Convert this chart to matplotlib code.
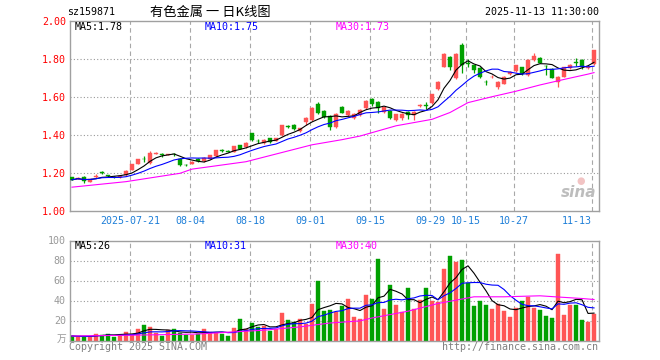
import matplotlib
matplotlib.use('Agg')
import matplotlib.pyplot as plt
import matplotlib.transforms as mtrans
import numpy as np
import pandas as pd

W, H = 660, 360

# ---------------- data ----------------
tick_idx = [10, 20, 30, 40, 50, 60, 66, 74, 87]
tick_labels = ['2025-07-21', '08-04', '08-18', '09-01', '09-15', '09-29', '10-15', '10-27', '11-13']

opens = [1.179, 1.170, 1.182, 1.156, 1.180, 1.205, 1.190, 1.182, 1.178, 1.189,
         1.218, 1.250, 1.277, 1.252, 1.303, 1.301, 1.297, 1.302, 1.276, 1.245,
         1.250, 1.276, 1.264, 1.277, 1.290, 1.323, 1.316, 1.314, 1.347, 1.336,
         1.411, 1.372, 1.360, 1.384, 1.372, 1.402, 1.449, 1.455, 1.422, 1.472,
         1.480, 1.565, 1.528, 1.502, 1.445, 1.550, 1.507, 1.493, 1.507, 1.545,
         1.591, 1.577, 1.521, 1.528, 1.480, 1.489, 1.524, 1.507, 1.554, 1.558,
         1.568, 1.644, 1.761, 1.810, 1.700, 1.875, 1.780, 1.768, 1.756, 1.682,
         1.705, 1.652, 1.672, 1.721, 1.738, 1.758, 1.715, 1.795, 1.806, 1.767,
         1.750, 1.680, 1.709, 1.755, 1.786, 1.796, 1.755, 1.775]
highs = [1.183, 1.180, 1.188, 1.170, 1.198, 1.212, 1.193, 1.185, 1.187, 1.216,
         1.250, 1.277, 1.290, 1.315, 1.310, 1.305, 1.303, 1.305, 1.280, 1.248,
         1.266, 1.280, 1.284, 1.298, 1.324, 1.330, 1.322, 1.346, 1.350, 1.364,
         1.413, 1.378, 1.380, 1.388, 1.386, 1.455, 1.455, 1.460, 1.440, 1.495,
         1.550, 1.575, 1.535, 1.505, 1.515, 1.555, 1.535, 1.515, 1.537, 1.585,
         1.598, 1.580, 1.550, 1.532, 1.513, 1.516, 1.528, 1.528, 1.565, 1.575,
         1.620, 1.685, 1.832, 1.815, 1.832, 1.886, 1.800, 1.772, 1.760, 1.690,
         1.720, 1.685, 1.710, 1.738, 1.772, 1.762, 1.800, 1.832, 1.812, 1.770,
         1.753, 1.712, 1.762, 1.774, 1.805, 1.800, 1.768, 1.850]
lows = [1.163, 1.168, 1.147, 1.153, 1.175, 1.196, 1.180, 1.176, 1.176, 1.186,
        1.215, 1.247, 1.262, 1.250, 1.300, 1.285, 1.294, 1.290, 1.240, 1.236,
        1.247, 1.262, 1.260, 1.274, 1.287, 1.310, 1.310, 1.310, 1.327, 1.332,
        1.370, 1.362, 1.356, 1.362, 1.368, 1.398, 1.438, 1.428, 1.418, 1.455,
        1.475, 1.510, 1.490, 1.430, 1.440, 1.515, 1.500, 1.488, 1.500, 1.540,
        1.556, 1.520, 1.515, 1.485, 1.475, 1.480, 1.485, 1.480, 1.548, 1.540,
        1.565, 1.640, 1.758, 1.745, 1.695, 1.730, 1.760, 1.730, 1.700, 1.665,
        1.700, 1.645, 1.668, 1.718, 1.735, 1.718, 1.710, 1.790, 1.778, 1.720,
        1.700, 1.655, 1.705, 1.750, 1.765, 1.750, 1.748, 1.770]
closes = [1.166, 1.177, 1.159, 1.168, 1.187, 1.203, 1.186, 1.178, 1.184, 1.213,
          1.247, 1.274, 1.274, 1.306, 1.306, 1.298, 1.300, 1.299, 1.246, 1.242,
          1.262, 1.266, 1.281, 1.296, 1.321, 1.320, 1.313, 1.344, 1.330, 1.362,
          1.376, 1.369, 1.377, 1.366, 1.384, 1.452, 1.446, 1.433, 1.437, 1.490,
          1.545, 1.516, 1.498, 1.442, 1.510, 1.519, 1.530, 1.510, 1.533, 1.580,
          1.563, 1.545, 1.547, 1.490, 1.510, 1.513, 1.505, 1.524, 1.557, 1.555,
          1.617, 1.682, 1.828, 1.761, 1.828, 1.768, 1.776, 1.744, 1.708, 1.679,
          1.708, 1.680, 1.705, 1.733, 1.768, 1.722, 1.797, 1.815, 1.782, 1.764,
          1.703, 1.708, 1.758, 1.770, 1.783, 1.757, 1.762, 1.849]
volumes = [4.5, 4.0, 4.0, 4.0, 7.0, 6.0, 7.0, 4.0, 6.0, 8.5,
           7.0, 11.5, 15.5, 13.5, 8.0, 5.0, 10.5, 11.5, 8.0, 6.0,
           6.0, 7.0, 12.0, 8.5, 8.0, 6.5, 5.0, 12.5, 21.5, 11.5,
           18.0, 14.0, 15.0, 9.5, 12.0, 27.5, 20.5, 19.0, 21.5, 17.0,
           37.0, 59.5, 29.5, 30.5, 29.0, 34.5, 41.5, 23.5, 21.3, 45.7,
           41.7, 81.3, 31.7, 55.7, 35.7, 28.3, 52.7, 31.7, 40.7, 52.3,
           40.0, 39.0, 71.7, 84.7, 79.0, 80.7, 57.3, 34.7, 40.0, 35.7,
           31.7, 36.7, 29.7, 23.7, 32.3, 40.0, 44.0, 33.0, 30.3, 24.3,
           22.3, 86.7, 25.3, 35.7, 35.7, 20.3, 18.3, 27.0]

# 30-day averages (index, value)
ma30_idx = [0, 9, 18, 20, 29, 40, 45, 48, 54, 60, 63, 66, 70, 74, 78, 82, 86, 87]
ma30_val = [1.127, 1.156, 1.200, 1.222, 1.261, 1.350, 1.377, 1.396, 1.450, 1.484,
            1.520, 1.572, 1.603, 1.632, 1.665, 1.694, 1.722, 1.730]
vma30_idx = [0, 10, 21, 27, 32, 38, 43, 48, 50, 56, 61, 67, 72, 78, 81, 85, 87]
vma30_val = [4.5, 5.3, 6.5, 8.6, 10.3, 13.6, 17.5, 19.6, 22.5, 29.3, 37.0, 43.7,
             43.7, 44.7, 43.5, 42.0, 41.0]

# ---------------- styles ----------------
RED = '#FF5555'
GREEN = '#00A000'
GRID = '#A8A8A8'
FRAME = '#A0A0A0'
MONO = 'DejaVu Sans Mono'
FS = 7.2

o = np.array(opens); c = np.array(closes)
hi = np.array(highs); lo = np.array(lows); v = np.array(volumes)
n = len(o)
x = np.arange(n)
up = c >= o
cols = np.where(up, RED, GREEN)

ma5 = pd.Series(c).rolling(5, min_periods=1).mean()
ma10 = pd.Series(c).rolling(10, min_periods=1).mean()
vma5 = pd.Series(v).rolling(5, min_periods=1).mean()
vma10 = pd.Series(v).rolling(10, min_periods=1).mean()

fig = plt.figure(figsize=(W / 100, H / 100), dpi=100)
fig.patch.set_facecolor('white')


def px_axes(l, t, r, b):
    return fig.add_axes([l / W, 1 - b / H, (r - l) / W, (b - t) / H])


def ftext(px, py, s, **kw):
    fig.text(px / W, 1 - py / H, s, **kw)


XMIN, XMAX = -0.33, 87.83
ax = px_axes(70, 21.3, 599, 211.3)
axv = px_axes(70, 240.5, 599, 340.5)

for a in (ax, axv):
    a.set_xlim(XMIN, XMAX)
    a.set_xticks([])
    for s in a.spines.values():
        s.set_color(FRAME)
        s.set_linewidth(1.0)
    a.tick_params(axis='y', length=0, pad=3)
    for t in tick_idx:
        a.axvline(t - 0.33, color=GRID, lw=0.8, linestyle=(0, (4, 3)), zorder=0)

# price panel
ax.set_ylim(1.0, 2.0)
yt = [1.0, 1.2, 1.4, 1.6, 1.8, 2.0]
ax.set_yticks(yt)
ax.set_yticklabels(['%.2f' % t for t in yt], color='#FF0000', fontsize=FS, family=MONO)
for g in [1.2, 1.4, 1.6, 1.8]:
    ax.axhline(g, color='#999999', lw=0.8, linestyle=(0, (1, 2)), zorder=0)

ax.vlines(x, lo, hi, color=cols, lw=0.9, zorder=2)
body_h = np.maximum(np.abs(c - o), 0.002)
ax.bar(x, body_h, bottom=np.minimum(o, c), width=0.78, color=cols,
       edgecolor=cols, linewidth=0.3, zorder=3)
ax.plot(x, ma5, color='black', lw=0.8, zorder=4)
ax.plot(x, ma10, color='#0000FF', lw=0.8, zorder=4)
ax.plot(ma30_idx, ma30_val, color='#FF00FF', lw=0.8, zorder=4)

ftext(75, 26.5, 'MA5:1.78', color='black', fontsize=FS, family=MONO, va='center')
ftext(205, 26.5, 'MA10:1.75', color='#0000FF', fontsize=FS, family=MONO, va='center')
ftext(336, 26.5, 'MA30:1.73', color='#FF00FF', fontsize=FS, family=MONO, va='center')

# x labels
trans = mtrans.blended_transform_factory(ax.transData, ax.transAxes)
for t, lab in zip(tick_idx, tick_labels):
    ha = 'right' if t == tick_idx[-1] else 'center'
    ax.text(t - 0.33, -0.052, lab, transform=trans, color='#1E7FD8', fontsize=7.2,
            family=MONO, ha=ha, va='center', clip_on=False)

# sina watermark
ax.text(0.995, 0.06, 'sina', transform=ax.transAxes, color='#BDBDBD', fontsize=11,
        fontweight='bold', style='italic', ha='right', va='bottom', zorder=1)
ax.text(0.965, 0.16, '\u25CF', transform=ax.transAxes, color='#F2C4C4', fontsize=7,
        ha='center', va='center', zorder=1)

# volume panel
axv.set_ylim(0, 100)
vt = [0, 20, 40, 60, 80, 100]
axv.set_yticks(vt)
axv.set_yticklabels(['', '20', '40', '60', '80', '100'], color='#999999', fontsize=FS, family=MONO)
for g in [20, 40, 60, 80]:
    axv.axhline(g, color='#999999', lw=0.8, linestyle=(0, (1, 2)), zorder=0)
axv.bar(x, v, width=0.78, color=cols, edgecolor=cols, linewidth=0.3, zorder=2)
axv.plot(x, vma5, color='black', lw=0.8, zorder=4)
axv.plot(x, vma10, color='#0000FF', lw=0.8, zorder=4)
axv.plot(vma30_idx, vma30_val, color='#FF00FF', lw=0.8, zorder=4)

ftext(75, 246, 'MA5:26', color='black', fontsize=FS, family=MONO, va='center')
ftext(205, 246, 'MA10:31', color='#0000FF', fontsize=FS, family=MONO, va='center')
ftext(336, 246, 'MA30:40', color='#FF00FF', fontsize=FS, family=MONO, va='center')
ftext(66, 339, '万', color='#999999', fontsize=7, family=['Noto Sans CJK SC', 'DejaVu Sans'],
      va='center', ha='right')

# header / footer
ftext(67, 12, 'sz159871', color='black', fontsize=FS, family=MONO, va='center')
ftext(150, 12, '有色金属 一 日K线图', color='black', fontsize=9.5,
      family=['Noto Sans CJK SC', 'DejaVu Sans'], va='center')
ftext(599, 12, '2025-11-13 11:30:00', color='black', fontsize=FS, family=MONO,
      va='center', ha='right')
ftext(69, 346.5, 'Copyright 2025 SINA.COM', color='#808080', fontsize=FS, family=MONO, va='center')
ftext(598, 346.5, 'http://finance.sina.com.cn', color='#808080', fontsize=FS, family=MONO,
      va='center', ha='right')

fig.savefig('out.png', dpi=100, facecolor='white')
